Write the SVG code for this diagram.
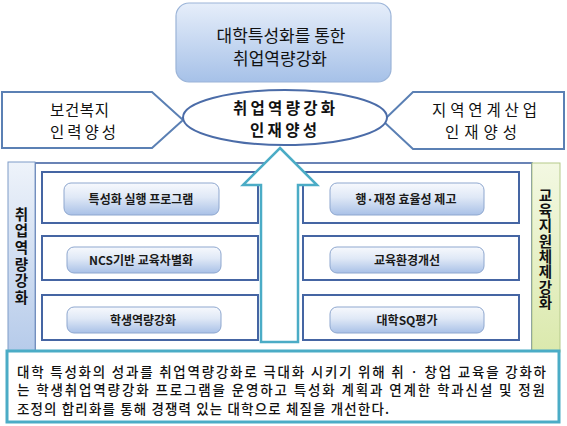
<svg xmlns="http://www.w3.org/2000/svg" width="567" height="426" viewBox="0 0 567 426">
<defs>
<linearGradient id="gTop" x1="0" y1="0" x2="0" y2="1">
<stop offset="0" stop-color="#e6eefa"/><stop offset="1" stop-color="#a6c1e8"/>
</linearGradient>
<linearGradient id="gBtn" x1="0" y1="0" x2="0" y2="1">
<stop offset="0" stop-color="#f7f9fd"/><stop offset="0.45" stop-color="#dfe8f6"/><stop offset="1" stop-color="#a9c1e7"/>
</linearGradient>
<linearGradient id="gLeft" x1="0" y1="0" x2="0" y2="1">
<stop offset="0" stop-color="#eef3fa"/><stop offset="1" stop-color="#b6cbea"/>
</linearGradient>
<linearGradient id="gGreen" x1="0" y1="0" x2="0" y2="1">
<stop offset="0" stop-color="#f3f8e2"/><stop offset="1" stop-color="#dbe9ad"/>
</linearGradient>
</defs>
<style>
text{font-family:"Noto Sans CJK KR","Noto Sans",sans-serif;fill:#111}
.t17{font-size:17px}
.t15{font-size:15.5px}
.pent{fill:#fff;stroke:#5b80b4;stroke-width:2}
.frame{fill:#fff;stroke:#4565a3;stroke-width:2}
.btn{fill:url(#gBtn);stroke:#8ea7cf;stroke-width:1}
.bt{font-size:12px;font-weight:bold;text-anchor:middle;fill:#1a1a1a}
.vt{font-size:14.5px;font-weight:bold;writing-mode:vertical-rl;text-orientation:upright}
.body{font-size:13.5px;font-weight:500}
</style>
<rect width="567" height="426" fill="#fff"/>

<g id="top-box">
<rect x="176" y="3" width="215" height="79" rx="13" fill="url(#gTop)" stroke="#9bb4d8" stroke-width="1.2"/>
<text class="t17" text-anchor="middle"><tspan x="281" y="42">대학특성화를 통한</tspan><tspan x="280" y="65">취업역량강화</tspan></text>
</g>

<g id="left-pentagon">
<polygon class="pent" points="2,92 152,92 183,120 152,148 2,148"/>
<text class="t15"><tspan x="50" y="116" textLength="59" lengthAdjust="spacing">보건복지</tspan><tspan x="50" y="137.5" textLength="66" lengthAdjust="spacing">인력양성</tspan></text>
</g>

<g id="right-pentagon">
<polygon class="pent" points="564,92 413,92 383,121 413,149 564,149"/>
<text class="t15"><tspan x="432" y="116" textLength="105" lengthAdjust="spacing">지역연계산업</tspan><tspan x="445" y="137.5" textLength="72" lengthAdjust="spacing">인재양성</tspan></text>
</g>

<g id="center-ellipse">
<ellipse cx="285" cy="117.5" rx="102" ry="27.5" fill="#fff" stroke="#4b6ca8" stroke-width="2"/>
<text font-size="15.5" font-weight="bold"><tspan x="233" y="114" textLength="102" lengthAdjust="spacing">취업역량강화</tspan><tspan x="250" y="135.5" textLength="67" lengthAdjust="spacing">인재양성</tspan></text>
</g>

<g id="main-frame">
<rect x="35" y="163" width="497" height="188" fill="#fff" stroke="#4565a3" stroke-width="1.6"/>
</g>

<g id="left-bar">
<rect x="8" y="162" width="27" height="190" fill="url(#gLeft)" stroke="#7f9cc8" stroke-width="1"/>
<text class="vt" x="21.5" y="207" letter-spacing="2.1">취업역량강화</text>
</g>

<g id="right-bar">
<rect x="532" y="163" width="28" height="189" fill="url(#gGreen)" stroke="#b5c98a" stroke-width="1"/>
<text class="vt" x="545.5" y="188" letter-spacing="0.8">교육지원체제강화</text>
</g>

<g id="left-frame-1">
<rect class="frame" x="42" y="172" width="216" height="51"/>
<rect class="btn" x="64" y="183" width="155" height="32" rx="7"/>
<text class="bt" x="141" y="203.5">특성화 실행 프로그램</text>
</g>
<g id="left-frame-2">
<rect class="frame" x="42" y="236" width="216" height="44"/>
<rect class="btn" x="67" y="247" width="154" height="26" rx="7"/>
<text class="bt" x="141" y="265">NCS기반 교육차별화</text>
</g>
<g id="left-frame-3">
<rect class="frame" x="42" y="295" width="216" height="45"/>
<rect class="btn" x="67" y="307" width="154" height="26" rx="7"/>
<text class="bt" x="143" y="325">학생역량강화</text>
</g>

<g id="right-frame-1">
<rect class="frame" x="303" y="172" width="216" height="51"/>
<rect class="btn" x="330" y="183" width="154" height="32" rx="7"/>
<text class="bt" x="406" y="203.5">행·재정 효율성 제고</text>
</g>
<g id="right-frame-2">
<rect class="frame" x="303" y="236" width="216" height="44"/>
<rect class="btn" x="330" y="247" width="154" height="26" rx="7"/>
<text class="bt" x="407" y="265">교육환경개선</text>
</g>
<g id="right-frame-3">
<rect class="frame" x="303" y="295" width="216" height="45"/>
<rect class="btn" x="330" y="307" width="154" height="26" rx="7"/>
<text class="bt" x="407" y="325">대학SQ평가</text>
</g>

<g id="connectors">
<polygon points="280,148 317,185 298,185 298,342 261,342 261,185 243,185" fill="#fff" stroke="#4bacc6" stroke-width="2.5" stroke-linejoin="miter"/>
</g>

<g id="bottom-box">
<rect x="7" y="351" width="552" height="71" fill="#fff" stroke="#4bacc6" stroke-width="3"/>
<text class="body" x="17" y="376.5" textLength="529" lengthAdjust="spacing">대학 특성화의 성과를 취업역량강화로 극대화 시키기 위해 취 · 창업 교육을 강화하</text>
<text class="body" x="17" y="395" textLength="528" lengthAdjust="spacing">는 학생취업역량강화 프로그램을 운영하고 특성화 계획과 연계한 학과신설 및 정원</text>
<text class="body" x="17" y="413.5" textLength="372" lengthAdjust="spacing">조정의 합리화를 통해 경쟁력 있는 대학으로 체질을 개선한다.</text>
</g>
</svg>
